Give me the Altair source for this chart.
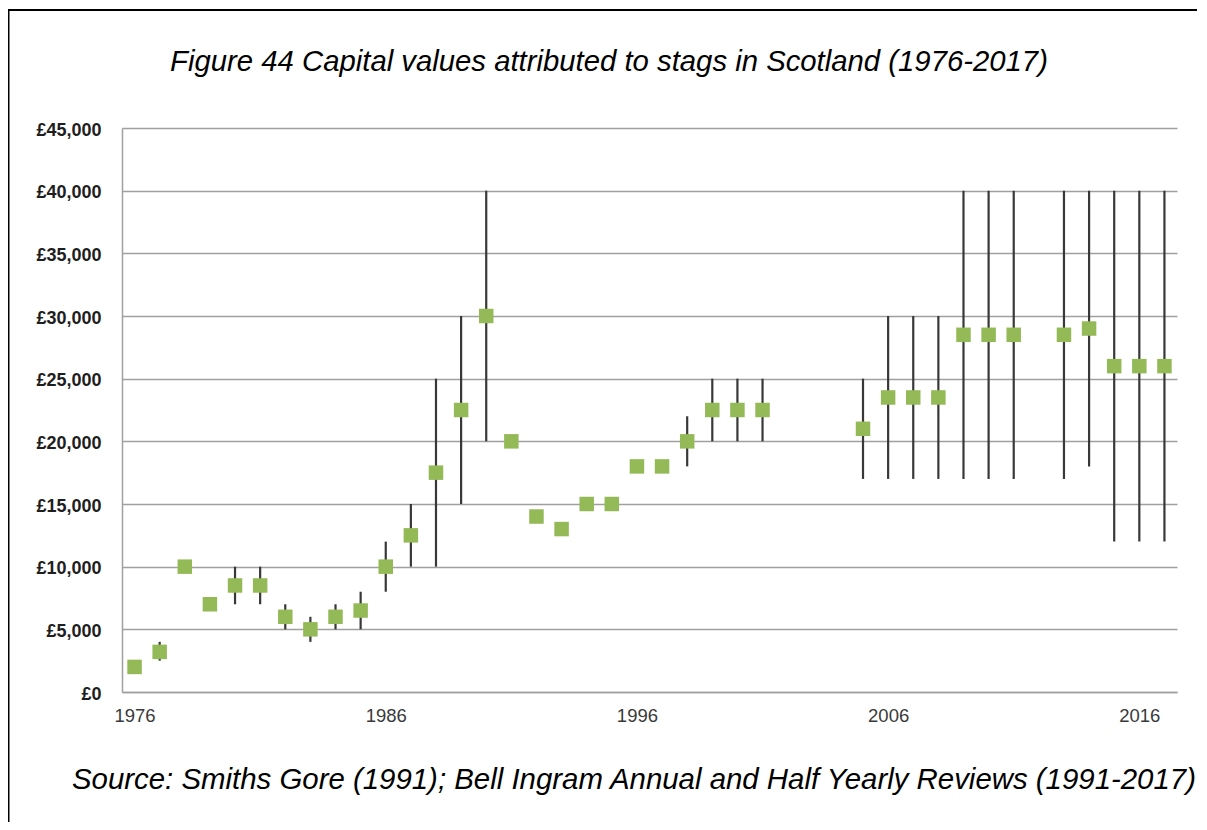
import altair as alt
import pandas as pd

years = [1976, 1977, 1978, 1979, 1980, 1981, 1982, 1983, 1984, 1985,
         1986, 1987, 1988, 1989, 1990, 1991, 1992, 1993, 1994, 1995,
         1996, 1997, 1998, 1999, 2000, 2001, 2005, 2006, 2007, 2008,
         2009, 2010, 2011, 2013, 2014, 2015, 2016, 2017]
values = [2000, 3200, 10000, 7000, 8500, 8500, 6000, 5000, 6000, 6500,
          10000, 12500, 17500, 22500, 30000, 20000, 14000, 13000, 15000, 15000,
          18000, 18000, 20000, 22500, 22500, 22500, 21000, 23500, 23500, 23500,
          28500, 28500, 28500, 28500, 29000, 26000, 26000, 26000]
lows = [None, 2500, None, None, 7000, 7000, 5000, 4000, 5000, 5000,
        8000, 10000, 10000, 15000, 20000, None, None, None, None, None,
        None, None, 18000, 20000, 20000, 20000, 17000, 17000, 17000, 17000,
        17000, 17000, 17000, 17000, 18000, 12000, 12000, 12000]
highs = [None, 4000, None, None, 10000, 10000, 7000, 6000, 7000, 8000,
         12000, 15000, 25000, 30000, 40000, None, None, None, None, None,
         None, None, 22000, 25000, 25000, 25000, 25000, 30000, 30000, 30000,
         40000, 40000, 40000, 40000, 40000, 40000, 40000, 40000]
x_labels = [1976, 1986, 1996, 2006, 2016]
y_ticks = [0, 5000, 10000, 15000, 20000, 25000, 30000, 35000, 40000, 45000]

title_text = "Figure 44 Capital values attributed to stags in Scotland (1976-2017)"
source_text = "Source: Smiths Gore (1991); Bell Ingram Annual and Half Yearly Reviews (1991-2017)"

df = pd.DataFrame({"year": years, "value": values, "low": lows, "high": highs})
df_bars = df.dropna(subset=["low", "high"])

FONT = "Liberation Sans"
W, H = 1055, 564

xscale = alt.Scale(domain=[1975.5, 2017.5], nice=False, zero=False)
yscale = alt.Scale(domain=[0, 45000], nice=False)

xaxis = alt.Axis(values=x_labels, format="d", grid=False, ticks=False, tickSize=0,
                 domain=True, domainColor="#a0a0a0", domainWidth=1.5,
                 labelFont=FONT, labelFontSize=18.5, labelColor="#3a3a3a",
                 labelPadding=14, title=None)
yaxis = alt.Axis(values=y_ticks, labelExpr="'£' + format(datum.value, ',')",
                 grid=True, gridColor="#a0a0a0", gridWidth=1.5,
                 ticks=False, tickSize=0, domain=True, domainColor="#a0a0a0",
                 domainWidth=1.5, labelFont=FONT, labelFontSize=18,
                 labelFontWeight="bold", labelColor="#1e1e1e", labelPadding=21,
                 labelBaseline="middle", labelOffset=2, title=None)

base_axes = alt.Chart(df).mark_point(opacity=0).encode(
    x=alt.X("year:Q", scale=xscale, axis=xaxis),
    y=alt.Y("value:Q", scale=yscale, axis=yaxis),
)

bars = alt.Chart(df_bars).mark_rule(color="#383838", strokeWidth=2.2).encode(
    x=alt.X("year:Q", scale=xscale),
    y=alt.Y("low:Q", scale=yscale),
    y2="high:Q",
)

squares = alt.Chart(df).mark_square(size=210, color="#94b957", opacity=1).encode(
    x=alt.X("year:Q", scale=xscale),
    y=alt.Y("value:Q", scale=yscale),
)

one = pd.DataFrame({"a": [0]})

title = alt.Chart(one).mark_text(
    text=title_text, font=FONT, fontSize=29.3, fontStyle="italic", color="#000000",
    align="center", baseline="alphabetic"
).encode(x=alt.value(487), y=alt.value(-57))

source = alt.Chart(one).mark_text(
    text=source_text, font=FONT, fontSize=29.4, fontStyle="italic", color="#000000",
    align="left", baseline="alphabetic"
).encode(x=alt.value(-50), y=alt.value(661))

border_left = alt.Chart(one).mark_rule(color="#000000", strokeWidth=3).encode(
    x=alt.value(-114), y=alt.value(-118), y2=alt.value(700)
)
border_top = alt.Chart(one).mark_rule(color="#000000", strokeWidth=2).encode(
    x=alt.value(-115), x2=alt.value(1200), y=alt.value(-118)
)

chart = alt.layer(base_axes, bars, squares, title, source, border_left, border_top).properties(
    width=W, height=H,
    autosize=alt.AutoSizeParams(type="none"),
    padding={"left": 114, "top": 120, "right": 20, "bottom": 130},
    background="white",
).configure_view(stroke=None)

chart.save("out.html", embed_options={"renderer": "svg", "actions": False})
